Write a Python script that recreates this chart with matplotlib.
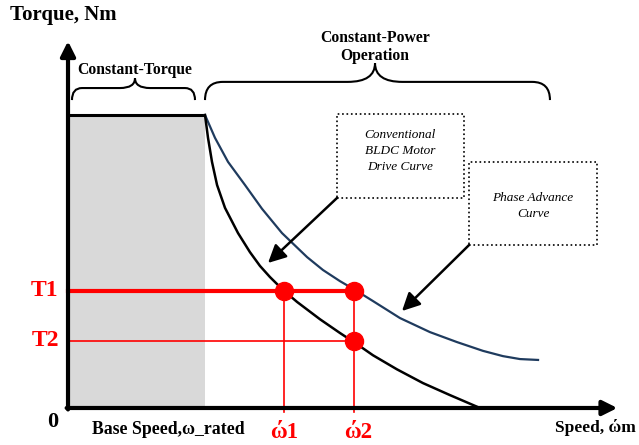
import matplotlib
matplotlib.use('Agg')
import matplotlib.pyplot as plt
from matplotlib.path import Path
from matplotlib.patches import PathPatch, Rectangle

plt.rcParams['font.family'] = ['Liberation Serif', 'DejaVu Serif']

# speed in units of base (rated) speed, torque in units of rated torque
base_speed = 1.0
rated_torque = 1.0

# conventional BLDC motor drive curve (constant-power region)
conv_speed = [1.0, 1.022, 1.051, 1.088, 1.146, 1.241, 1.328, 1.401, 1.474,
              1.569, 1.672, 1.839, 1.985, 2.109, 2.226, 2.401, 2.591, 2.788,
              3.007]
conv_torque = [1.0, 0.922, 0.840, 0.761, 0.683, 0.597, 0.532, 0.485, 0.447,
               0.403, 0.362, 0.303, 0.256, 0.218, 0.180, 0.132, 0.085, 0.044,
               0.0]

# phase advance curve
pa_speed = [1.0, 1.073, 1.168, 1.292, 1.416, 1.562, 1.745, 1.861, 1.985,
            2.095, 2.226, 2.423, 2.642, 2.839, 3.029, 3.175, 3.299, 3.431]
pa_torque = [1.0, 0.922, 0.840, 0.761, 0.680, 0.597, 0.515, 0.471, 0.433,
             0.403, 0.365, 0.307, 0.259, 0.225, 0.195, 0.177, 0.167, 0.164]

T1, T2 = 0.40, 0.23
w1, w2 = 1.58, 2.09

RED = '#ff0000'
NAVY = '#1f3b5e'

fig = plt.figure(figsize=(6.39, 4.45), dpi=100)
ax = fig.add_axes([0, 0, 1, 1])
ax.set_xlim(-0.4964, 4.1679)
ax.set_ylim(-0.1263, 1.3925)
ax.axis('off')

# constant torque region
ax.add_patch(Rectangle((0, 0), base_speed, rated_torque, facecolor='#d9d9d9',
                       edgecolor='none', zorder=1))
ax.plot([0, base_speed], [rated_torque, rated_torque], color='black', lw=2.2,
        zorder=3, solid_capstyle='butt')

ax.plot(pa_speed, pa_torque, color=NAVY, lw=1.6, zorder=3)
ax.plot(conv_speed, conv_torque, color='black', lw=1.8, zorder=3)

# operating points
ax.plot([0, w2], [T1, T1], color=RED, lw=3, zorder=4)
ax.plot([0, w2], [T2, T2], color=RED, lw=1.2, zorder=4)
ax.plot([w1, w1], [T1, -0.012], color=RED, lw=1.2, zorder=4)
ax.plot([w2, w2], [T1, -0.015], color=RED, lw=1.2, zorder=4)
ax.plot([w1, w2, w2], [T1, T1, T2], 'o', color=RED, ms=13, zorder=5)

# axes with arrows
ax.annotate('', xy=(0, 1.252), xytext=(0, -0.005),
            arrowprops=dict(arrowstyle='-|>', lw=3, color='black',
                            mutation_scale=22, shrinkA=0, shrinkB=0), zorder=6)
ax.annotate('', xy=(4.01, 0), xytext=(-0.01, 0),
            arrowprops=dict(arrowstyle='-|>', lw=3, color='black',
                            mutation_scale=22, shrinkA=0, shrinkB=0), zorder=6)


def brace(x0, x1, yb, yl, yt, re, rc, xm=None):
    # curly brace opening downward, tip pointing up
    if xm is None:
        xm = (x0 + x1) / 2
    verts = [(x0, yb), (x0, yl), (x0 + re, yl),
             (xm - rc, yl),
             (xm, yl), (xm, yt),
             (xm, yl), (xm + rc, yl),
             (x1 - re, yl),
             (x1, yl), (x1, yb)]
    codes = [Path.MOVETO, Path.CURVE3, Path.CURVE3,
             Path.LINETO,
             Path.CURVE3, Path.CURVE3,
             Path.CURVE3, Path.CURVE3,
             Path.LINETO,
             Path.CURVE3, Path.CURVE3]
    ax.add_patch(PathPatch(Path(verts, codes), facecolor='none',
                           edgecolor='black', lw=1.5, zorder=3))


brace(0.029, 0.927, 1.051, 1.092, 1.126, 0.073, 0.11, xm=0.489)
brace(1.0, 3.518, 1.051, 1.113, 1.177, 0.13, 0.20, xm=2.241)

ax.text(0.489, 1.154, 'Constant-Torque', ha='center', va='center',
        fontsize=11.3, fontweight='bold')
ax.text(2.241, 1.232, 'Constant-Power\nOperation', ha='center',
        va='center', fontsize=11.3, fontweight='bold', linespacing=1.1)

# annotation boxes
ax.add_patch(Rectangle((1.964, 0.717), 0.927, 0.286, facecolor='white',
                       edgecolor='black', ls=':', lw=1.2, zorder=3))
ax.text(2.423, 0.877, 'Conventional\nBLDC Motor\nDrive Curve', ha='center',
        va='center', fontsize=9.5, style='italic', linespacing=1.45)
ax.add_patch(Rectangle((2.927, 0.556), 0.934, 0.284, facecolor='white',
                       edgecolor='black', ls=':', lw=1.2, zorder=3))
ax.text(3.394, 0.690, 'Phase Advance\nCurve', ha='center', va='center',
        fontsize=9.5, style='italic', linespacing=1.4)

ax.annotate('', xy=(1.460, 0.495), xytext=(1.964, 0.717),
            arrowprops=dict(arrowstyle='-|>', lw=1.8, color='black',
                            mutation_scale=27, shrinkA=0, shrinkB=0),
            zorder=6)
ax.annotate('', xy=(2.438, 0.331), xytext=(2.927, 0.556),
            arrowprops=dict(arrowstyle='-|>', lw=1.8, color='black',
                            mutation_scale=27, shrinkA=0, shrinkB=0),
            zorder=6)

# labels
ax.text(-0.423, 1.341, 'Torque, Nm', ha='left', va='center', fontsize=15,
        fontweight='bold')
ax.text(-0.168, T1, 'T1', ha='center', va='center', fontsize=17,
        fontweight='bold', color=RED)
ax.text(-0.168, T2, 'T2', ha='center', va='center', fontsize=17,
        fontweight='bold', color=RED)
ax.text(-0.109, -0.048, '0', ha='center', va='center', fontsize=16,
        fontweight='bold')
ax.text(0.734, -0.075, 'Base Speed,ω_rated', ha='center', va='center',
        fontsize=12.8, fontweight='bold')
ax.text(w1, -0.085, 'ώ1', ha='center', va='center', fontsize=16.5,
        fontweight='bold', color=RED)
ax.text(w2 + 0.03, -0.085, 'ώ2', ha='center', va='center', fontsize=16.5,
        fontweight='bold', color=RED)
ax.text(3.847, -0.068, 'Speed, ώm', ha='center', va='center', fontsize=12.5,
        fontweight='bold')

fig.savefig('out.png', dpi=100)
